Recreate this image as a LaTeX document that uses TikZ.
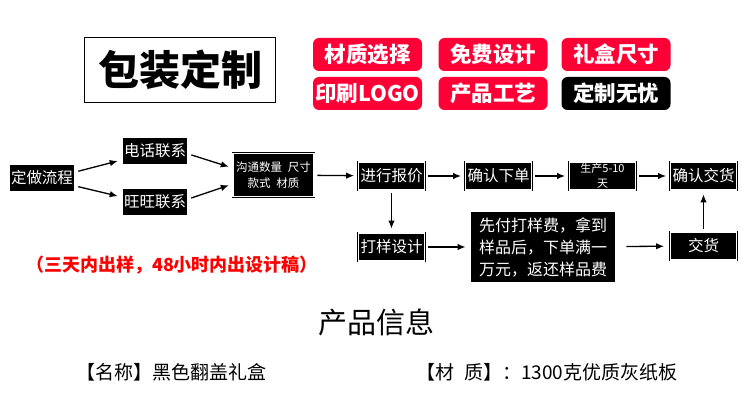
\documentclass[tikz,border=0pt]{standalone}
\usepackage{fontspec}
\setmainfont{Noto Sans CJK SC}
\usetikzlibrary{arrows.meta}
\definecolor{tagred}{HTML}{FF0036}
\begin{document}
\begin{tikzpicture}[x=1pt,y=-1pt]
		\tikzstyle{flow} =[draw=black, double=white, double distance=1.2pt, line width=0.8pt, fill=black, text=white, minimum width=66pt, minimum height=28pt, inner sep=1pt, align=center, font=\fontsize{15.5}{18}\selectfont];
		\tikzstyle{tag} =[fill=tagred, text=white, rounded corners=6pt, minimum width=109pt, minimum height=33pt, inner sep=0pt, font=\bfseries\fontsize{21.5}{24}\selectfont];
		\tikzstyle{arr} =[-{Latex[length=8pt,width=6.5pt]}, line width=1.3pt, shorten <=3pt, shorten >=4pt];
		\useasboundingbox (0,0) rectangle (750,414);

		% heading and tags
		\node[draw, line width=1.5pt, minimum width=191pt, minimum height=65pt, inner sep=0pt, font=\bfseries\fontsize{41}{44}\selectfont] (title) at (180,70) {包装定制};
		\node[tag] (material) at (367.5,54.5) {材质选择};
		\node[tag, right of = material, node distance=125.5pt] (design) {免费设计};
		\node[tag, right of = design, node distance=123pt] (size) {礼盒尺寸};
		\node[tag, below of = material, node distance=39pt] (logo) {印刷LOGO};
		\node[tag, right of = logo, node distance=125.5pt] (craft) {产品工艺};
		\node[tag, fill=black, right of = craft, node distance=123pt] (worry) {定制无忧};

		% flow
		\node[flow] (start) at (42,178) {定做流程};
		\node[flow] (phone) at (155,151) {电话联系};
		\node[flow, below of = phone, node distance=51pt] (wang) {旺旺联系};
		\node[flow, minimum width=81pt, minimum height=43pt, font=\fontsize{11.5}{16}\selectfont] (talk) at (273.5,175) {沟通数量\hspace{0.5em}尺寸\\款式\hspace{0.5em}材质};
		\node[flow] (quote) at (391.5,176) {进行报价};
		\node[flow, right of = quote, node distance=107pt] (order) {确认下单};
		\node[flow, right of = order, node distance=104pt, font=\fontsize{11}{15}\selectfont] (produce) {生产5-10\\天};
		\node[flow, right of = produce, node distance=101pt] (confirm) {确认交货};
		\node[flow, below of = quote, node distance=71pt] (sample) {打样设计};
		\node[flow, minimum width=146pt, minimum height=72pt, font=\fontsize{16}{22}\selectfont] (pay) at (543,247) {先付打样费，拿到\\样品后，下单满一\\万元，返还样品费};
		\node[flow, below of = confirm, node distance=70pt] (deliver) {交货};

		\draw[arr] ([yshift=6pt]start.east) -- ([yshift=-9pt]phone.west);
		\draw[arr] ([yshift=-8pt]start.east) -- ([yshift=5pt]wang.west);
		\draw[arr] ([yshift=-3pt]phone.east) -- ([yshift=7pt]talk.west);
		\draw[arr] ([yshift=3pt]wang.east) -- ([yshift=-9pt]talk.west);
		\draw[arr] (talk) -- (quote);
		\draw[arr] (quote) -- (order);
		\draw[arr] (order) -- (produce);
		\draw[arr] (produce) -- (confirm);
		\draw[arr] (quote) -- (sample);
		\draw[arr] (sample) -- (pay);
		\draw[arr, shorten <=10pt, shorten >=6pt] (pay) -- (deliver);
		\draw[arr] (deliver) -- (confirm);

		% notes
		\node[text=red, font=\bfseries\fontsize{18}{20}\selectfont] (note) at (172,265) {（三天内出样，48小时内出设计稿）};
		\node[font=\fontsize{29}{32}\selectfont] (info) at (376,322) {产品信息};
		\node[font=\fontsize{19}{22}\selectfont] (name) at (171.5,372) {【名称】黑色翻盖礼盒};
		\node[font=\fontsize{19}{22}\selectfont] (board) at (547,372) {【材\hspace{0.5em}质】：1300克优质灰纸板};
	\end{tikzpicture}
\end{document}
